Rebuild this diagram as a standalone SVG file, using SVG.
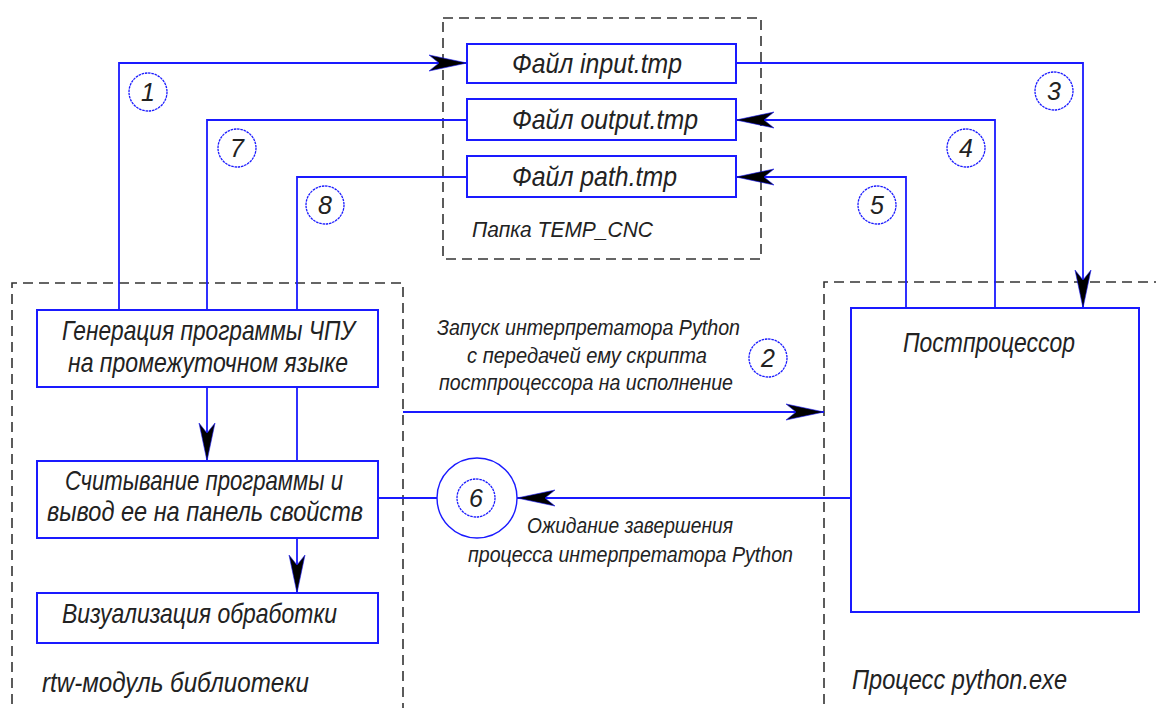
<svg xmlns="http://www.w3.org/2000/svg" width="1156" height="708" viewBox="0 0 1156 708">
  <style>
    .frame { fill: none; stroke: #333; stroke-width: 1.6; stroke-dasharray: 10 6; }
    .box { fill: #fff; stroke: #1a1aff; stroke-width: 2; }
    .wire { fill: none; stroke: #1a1aff; stroke-width: 1.8; }
    .tag { fill: none; stroke: #1a1aff; stroke-width: 1.3; stroke-dasharray: 2.5 0.8; }
    .ring { fill: #fff; stroke: #1a1aff; stroke-width: 1.4; }
    text { font-family: "Liberation Sans", Arial, sans-serif; font-style: italic; fill: #222; }
    .lbl { font-size: 28px; }
    .desc { font-size: 22px; }
    .num { font-size: 25px; text-anchor: middle; }
  </style>
  <defs>
    <marker id="arrow" markerUnits="userSpaceOnUse" markerWidth="44" markerHeight="20" viewBox="-42 -9 44 18" refX="0" refY="0" orient="auto" overflow="visible">
      <path d="M0,0 L-38,-8 L-28,0 L-38,8 Z" fill="#000" stroke="#1a1aff" stroke-width="0.6"/>
    </marker>
  </defs>

  <!-- dashed groupings -->
  <g id="frames">
    <rect class="frame" x="443" y="18" width="318" height="241"/>
    <path class="frame" d="M12,720 V283 H403 V720"/>
    <path class="frame" d="M824,720 V282 H1160"/>
  </g>

  <!-- connectors -->
  <g id="connectors">
    <path class="wire" d="M119,310 V63 H467" marker-end="url(#arrow)"/>
    <path class="wire" d="M207,310 V120 H467"/>
    <path class="wire" d="M297,310 V177 H467"/>
    <path class="wire" d="M736,63 H1083 V308" marker-end="url(#arrow)"/>
    <path class="wire" d="M995,308 V120 H736" marker-end="url(#arrow)"/>
    <path class="wire" d="M906,308 V177 H736" marker-end="url(#arrow)"/>
    <path class="wire" d="M207,387 V461" marker-end="url(#arrow)"/>
    <path class="wire" d="M297,387 V461"/>
    <path class="wire" d="M297,538 V593" marker-end="url(#arrow)"/>
    <path class="wire" d="M403,412 H824" marker-end="url(#arrow)"/>
    <path class="wire" d="M851,498 H517" marker-end="url(#arrow)"/>
    <path class="wire" d="M378,498 H437"/>
  </g>

  <!-- temp folder files -->
  <g id="file-input">
    <rect class="box" x="467" y="44" width="269" height="39"/>
    <text class="lbl" x="512" y="73" textLength="170" lengthAdjust="spacingAndGlyphs">Файл  input.tmp</text>
  </g>
  <g id="file-output">
    <rect class="box" x="467" y="99" width="269" height="41"/>
    <text class="lbl" x="512" y="129" textLength="186" lengthAdjust="spacingAndGlyphs">Файл  output.tmp</text>
  </g>
  <g id="file-path">
    <rect class="box" x="467" y="156" width="269" height="41"/>
    <text class="lbl" x="512" y="186" textLength="165" lengthAdjust="spacingAndGlyphs">Файл  path.tmp</text>
  </g>
  <g id="folder-label">
    <text class="desc" x="472" y="237" textLength="181" lengthAdjust="spacingAndGlyphs">Папка TEMP_CNC</text>
  </g>

  <!-- library module -->
  <g id="generate">
    <rect class="box" x="37" y="310" width="341" height="77"/>
    <text class="lbl" x="62" y="340" textLength="293" lengthAdjust="spacingAndGlyphs">Генерация программы ЧПУ</text>
    <text class="lbl" x="68" y="372" textLength="280" lengthAdjust="spacingAndGlyphs">на промежуточном языке</text>
  </g>
  <g id="read">
    <rect class="box" x="37" y="461" width="341" height="77"/>
    <text class="lbl" x="65" y="490" textLength="278" lengthAdjust="spacingAndGlyphs">Считывание программы и</text>
    <text class="lbl" x="47" y="521" textLength="316" lengthAdjust="spacingAndGlyphs">вывод ее на панель свойств</text>
  </g>
  <g id="visualize">
    <rect class="box" x="37" y="593" width="341" height="50"/>
    <text class="lbl" x="62" y="623" textLength="275" lengthAdjust="spacingAndGlyphs">Визуализация обработки</text>
  </g>
  <g id="module-label">
    <text class="lbl" x="42" y="692" textLength="267" lengthAdjust="spacingAndGlyphs">rtw-модуль библиотеки</text>
  </g>

  <!-- python process -->
  <g id="postprocessor">
    <rect class="box" x="851" y="308" width="288" height="304"/>
    <text class="lbl" x="903" y="352" textLength="172" lengthAdjust="spacingAndGlyphs">Постпроцессор</text>
  </g>
  <g id="process-label">
    <text class="lbl" x="852" y="689" textLength="215" lengthAdjust="spacingAndGlyphs">Процесс python.exe</text>
  </g>

  <!-- connector notes -->
  <g id="launch-note">
    <text class="desc" x="437" y="335" textLength="303" lengthAdjust="spacingAndGlyphs">Запуск интерпретатора Python</text>
    <text class="desc" x="467" y="363" textLength="240" lengthAdjust="spacingAndGlyphs">с передачей ему скрипта</text>
    <text class="desc" x="439" y="390" textLength="294" lengthAdjust="spacingAndGlyphs">постпроцессора на исполнение</text>
  </g>
  <g id="wait-note">
    <text class="desc" x="527" y="533" textLength="206" lengthAdjust="spacingAndGlyphs">Ожидание завершения</text>
    <text class="desc" x="468" y="562" textLength="325" lengthAdjust="spacingAndGlyphs">процесса интерпретатора Python</text>
  </g>

  <!-- step numbers -->
  <g id="step-1"><circle class="tag" cx="148" cy="92" r="19"/><text class="num" x="148" y="101">1</text></g>
  <g id="step-2"><circle class="tag" cx="768" cy="358" r="19"/><text class="num" x="768" y="367">2</text></g>
  <g id="step-3"><circle class="tag" cx="1054" cy="91" r="19"/><text class="num" x="1054" y="100">3</text></g>
  <g id="step-4"><circle class="tag" cx="966" cy="148" r="19"/><text class="num" x="966" y="157">4</text></g>
  <g id="step-5"><circle class="tag" cx="877" cy="205" r="19"/><text class="num" x="877" y="214">5</text></g>
  <g id="step-6">
    <circle class="ring" cx="477" cy="498" r="40"/>
    <circle class="tag" cx="476" cy="498" r="19"/>
    <text class="num" x="476" y="507">6</text>
  </g>
  <g id="step-7"><circle class="tag" cx="237" cy="148" r="19"/><text class="num" x="237" y="157">7</text></g>
  <g id="step-8"><circle class="tag" cx="325" cy="205" r="19"/><text class="num" x="325" y="214">8</text></g>
</svg>
